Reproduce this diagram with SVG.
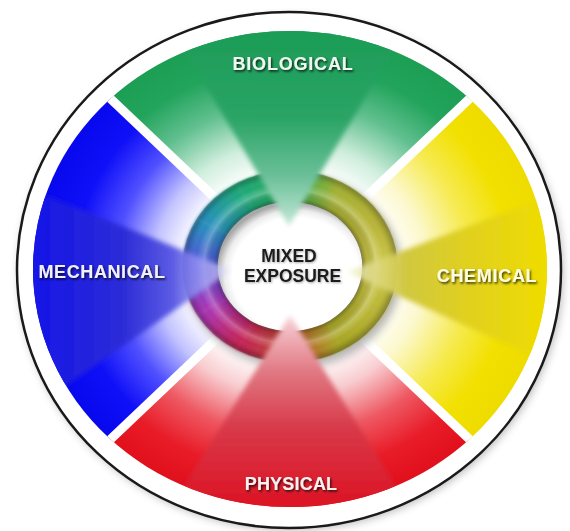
<svg xmlns="http://www.w3.org/2000/svg" width="570" height="531" viewBox="0 0 570 531">
<style>
.lbl{font-family:"Liberation Sans",Arial,sans-serif;font-weight:bold;font-size:18px;text-anchor:middle;filter:url(#tshadow)}
.ctr{font-family:"Liberation Sans",Arial,sans-serif;font-weight:bold;font-size:17.5px;text-anchor:middle;fill:#1a1a1a;filter:url(#cshadow)}
.sep{stroke:#ffffff;stroke-width:9;fill:none}
.cone{filter:url(#soft)}
</style>
<defs>
<clipPath id="disk"><ellipse cx="290" cy="269" rx="257" ry="238"/></clipPath>
<filter id="tshadow" x="-10%" y="-40%" width="125%" height="180%"><feDropShadow dx="1.2" dy="1.6" stdDeviation="0.8" flood-color="#000" flood-opacity="0.8"/></filter>
<filter id="cshadow" x="-10%" y="-40%" width="125%" height="180%"><feDropShadow dx="0.8" dy="1" stdDeviation="0.8" flood-color="#000" flood-opacity="0.35"/></filter>
<filter id="soft" x="-20%" y="-20%" width="140%" height="140%"><feGaussianBlur stdDeviation="2.5"/></filter>
<filter id="blur1" x="-10%" y="-10%" width="120%" height="120%"><feGaussianBlur stdDeviation="1.3"/></filter>
<filter id="blur4" x="-20%" y="-20%" width="140%" height="140%"><feGaussianBlur stdDeviation="4"/></filter>
<radialGradient id="gGreen" gradientUnits="userSpaceOnUse" cx="290" cy="269" r="257" gradientTransform="translate(290 269) scale(1 0.926) translate(-290 -269)">
<stop offset="0" stop-color="#fff"/><stop offset="0.4" stop-color="#fff"/><stop offset="0.53" stop-color="#d0eedd"/><stop offset="0.7" stop-color="#62c090"/><stop offset="0.86" stop-color="#22a45c"/><stop offset="1" stop-color="#1c9e55"/></radialGradient>
<radialGradient id="gBlue" gradientUnits="userSpaceOnUse" cx="290" cy="269" r="257" gradientTransform="translate(290 269) scale(1 0.926) translate(-290 -269)">
<stop offset="0" stop-color="#fff"/><stop offset="0.4" stop-color="#fff"/><stop offset="0.53" stop-color="#c4c4ff"/><stop offset="0.68" stop-color="#5050ff"/><stop offset="0.84" stop-color="#1010f8"/><stop offset="1" stop-color="#0808ee"/></radialGradient>
<radialGradient id="gYellow" gradientUnits="userSpaceOnUse" cx="290" cy="269" r="257" gradientTransform="translate(290 269) scale(1 0.926) translate(-290 -269)">
<stop offset="0" stop-color="#fff"/><stop offset="0.4" stop-color="#fff"/><stop offset="0.53" stop-color="#fcf8cc"/><stop offset="0.7" stop-color="#f6ea50"/><stop offset="0.86" stop-color="#f2e000"/><stop offset="1" stop-color="#eedc00"/></radialGradient>
<radialGradient id="gRed" gradientUnits="userSpaceOnUse" cx="290" cy="269" r="257" gradientTransform="translate(290 269) scale(1 0.926) translate(-290 -269)">
<stop offset="0" stop-color="#fff"/><stop offset="0.4" stop-color="#fff"/><stop offset="0.53" stop-color="#f8cdd0"/><stop offset="0.7" stop-color="#ee5862"/><stop offset="0.86" stop-color="#e81c28"/><stop offset="1" stop-color="#e0101c"/></radialGradient>
<linearGradient id="cGreen" gradientUnits="userSpaceOnUse" x1="289" y1="30" x2="289" y2="226">
<stop offset="0" stop-color="#1c9c56"/><stop offset="0.45" stop-color="#2aa465"/><stop offset="0.75" stop-color="#6cc099"/><stop offset="0.92" stop-color="#a8dcc4"/><stop offset="1" stop-color="#c8ead8"/></linearGradient>
<linearGradient id="cRed" gradientUnits="userSpaceOnUse" x1="290" y1="505" x2="290" y2="315">
<stop offset="0" stop-color="#dc1424"/><stop offset="0.4" stop-color="#d83848"/><stop offset="0.7" stop-color="#e07882"/><stop offset="0.9" stop-color="#f0b4bc"/><stop offset="1" stop-color="#f8dadd"/></linearGradient>
<linearGradient id="cBlue" gradientUnits="userSpaceOnUse" x1="35" y1="270" x2="232" y2="270">
<stop offset="0" stop-color="#1616e6"/><stop offset="0.45" stop-color="#2c2cd8"/><stop offset="0.7" stop-color="#5c5ce4"/><stop offset="0.88" stop-color="#a8a8f4" stop-opacity="0.8"/><stop offset="1" stop-color="#f0f0ff" stop-opacity="0.6"/></linearGradient>
<linearGradient id="cYellow" gradientUnits="userSpaceOnUse" x1="545" y1="272" x2="346" y2="272">
<stop offset="0" stop-color="#eedc00"/><stop offset="0.4" stop-color="#e0d020"/><stop offset="0.7" stop-color="#d0c840"/><stop offset="0.88" stop-color="#e0dc90" stop-opacity="0.85"/><stop offset="1" stop-color="#f8f8e0" stop-opacity="0.6"/></linearGradient>
<linearGradient id="r0" gradientUnits="userSpaceOnUse" x1="80" y1="0" x2="69.28" y2="40"><stop offset="0" stop-color="#ccc84a"/><stop offset="1" stop-color="#bab634"/></linearGradient>
<linearGradient id="r1" gradientUnits="userSpaceOnUse" x1="69.28" y1="40" x2="40" y2="69.28"><stop offset="0" stop-color="#bab634"/><stop offset="1" stop-color="#a8a624"/></linearGradient>
<linearGradient id="r2" gradientUnits="userSpaceOnUse" x1="40" y1="69.28" x2="0" y2="80"><stop offset="0" stop-color="#a8a624"/><stop offset="1" stop-color="#b84a2c"/></linearGradient>
<linearGradient id="r3" gradientUnits="userSpaceOnUse" x1="0" y1="80" x2="-40" y2="69.28"><stop offset="0" stop-color="#b84a2c"/><stop offset="1" stop-color="#c42454"/></linearGradient>
<linearGradient id="r4" gradientUnits="userSpaceOnUse" x1="-40" y1="69.28" x2="-69.28" y2="40"><stop offset="0" stop-color="#c42454"/><stop offset="1" stop-color="#aa34b4"/></linearGradient>
<linearGradient id="r5" gradientUnits="userSpaceOnUse" x1="-69.28" y1="40" x2="-80" y2="0"><stop offset="0" stop-color="#aa34b4"/><stop offset="1" stop-color="#5250da"/></linearGradient>
<linearGradient id="r6" gradientUnits="userSpaceOnUse" x1="-80" y1="0" x2="-69.28" y2="-40"><stop offset="0" stop-color="#5250da"/><stop offset="1" stop-color="#2690bc"/></linearGradient>
<linearGradient id="r7" gradientUnits="userSpaceOnUse" x1="-69.28" y1="-40" x2="-40" y2="-69.28"><stop offset="0" stop-color="#2690bc"/><stop offset="1" stop-color="#1ea878"/></linearGradient>
<linearGradient id="r8" gradientUnits="userSpaceOnUse" x1="-40" y1="-69.28" x2="0" y2="-80"><stop offset="0" stop-color="#1ea878"/><stop offset="1" stop-color="#26a852"/></linearGradient>
<linearGradient id="r9" gradientUnits="userSpaceOnUse" x1="0" y1="-80" x2="40" y2="-69.28"><stop offset="0" stop-color="#26a852"/><stop offset="1" stop-color="#a4b032"/></linearGradient>
<linearGradient id="r10" gradientUnits="userSpaceOnUse" x1="40" y1="-69.28" x2="69.28" y2="-40"><stop offset="0" stop-color="#a4b032"/><stop offset="1" stop-color="#b8b436"/></linearGradient>
<linearGradient id="r11" gradientUnits="userSpaceOnUse" x1="69.28" y1="-40" x2="80" y2="0"><stop offset="0" stop-color="#b8b436"/><stop offset="1" stop-color="#ccc84a"/></linearGradient>
<radialGradient id="tube" cx="0.5" cy="0.5" r="0.5">
<stop offset="0" stop-color="#000" stop-opacity="0"/><stop offset="0.66" stop-color="#000" stop-opacity="0.38"/><stop offset="0.72" stop-color="#000" stop-opacity="0.08"/><stop offset="0.8" stop-color="#fff" stop-opacity="0.25"/><stop offset="0.88" stop-color="#fff" stop-opacity="0"/><stop offset="0.95" stop-color="#000" stop-opacity="0.1"/><stop offset="1" stop-color="#000" stop-opacity="0.3"/></radialGradient>
<radialGradient id="hole" cx="0.54" cy="0.56" r="0.55">
<stop offset="0" stop-color="#fff"/><stop offset="0.8" stop-color="#fff"/><stop offset="0.9" stop-color="#ececec"/><stop offset="1" stop-color="#a8a8a8"/></radialGradient>
</defs>
<rect width="570" height="531" fill="#fff"/>
<g id="rim">
<ellipse cx="291" cy="273" rx="272" ry="257" fill="#666" opacity="0.45" filter="url(#blur4)"/>
<ellipse cx="289" cy="270" rx="272" ry="258" fill="#fff" stroke="#1a1a1a" stroke-width="2.5"/>
</g>
<g clip-path="url(#disk)">
<g id="node-biological">
<polygon points="290,269 -80,-83 660,-83" fill="url(#gGreen)"/>
</g>
<g id="node-mechanical">
<polygon points="290,269 -80,-83 -80,621" fill="url(#gBlue)"/>
</g>
<g id="node-chemical">
<polygon points="290,269 660,-83 660,621" fill="url(#gYellow)"/>
</g>
<g id="node-physical">
<polygon points="290,269 -80,621 660,621" fill="url(#gRed)"/>
</g>
<g id="separators">
<line class="sep" x1="290" y1="269" x2="-3" y2="-9"/>
<line class="sep" x1="290" y1="269" x2="583" y2="-9"/>
<line class="sep" x1="290" y1="269" x2="-3" y2="547"/>
<line class="sep" x1="290" y1="269" x2="583" y2="547"/>
</g>
</g>
<g id="node-mixed">
<g transform="translate(290 266.5) scale(1.12 1)">
<circle cx="3" cy="5" r="97" fill="#000" opacity="0.28" filter="url(#blur4)"/>
<g filter="url(#blur1)" fill="none" stroke-width="32">
<path d="M80 0A80 80 0 0 1 69.28 40" stroke="url(#r0)"/>
<path d="M69.28 40A80 80 0 0 1 40 69.28" stroke="url(#r1)"/>
<path d="M40 69.28A80 80 0 0 1 0 80" stroke="url(#r2)"/>
<path d="M0 80A80 80 0 0 1 -40 69.28" stroke="url(#r3)"/>
<path d="M-40 69.28A80 80 0 0 1 -69.28 40" stroke="url(#r4)"/>
<path d="M-69.28 40A80 80 0 0 1 -80 0" stroke="url(#r5)"/>
<path d="M-80 0A80 80 0 0 1 -69.28 -40" stroke="url(#r6)"/>
<path d="M-69.28 -40A80 80 0 0 1 -40 -69.28" stroke="url(#r7)"/>
<path d="M-40 -69.28A80 80 0 0 1 0 -80" stroke="url(#r8)"/>
<path d="M0 -80A80 80 0 0 1 40 -69.28" stroke="url(#r9)"/>
<path d="M40 -69.28A80 80 0 0 1 69.28 -40" stroke="url(#r10)"/>
<path d="M69.28 -40A80 80 0 0 1 80 0" stroke="url(#r11)"/>
</g>
<path d="M96 0A96 96 0 1 1 -96 0A96 96 0 1 1 96 0ZM64 0A64 64 0 1 0 -64 0A64 64 0 1 0 64 0Z" fill-rule="evenodd" fill="url(#tube)"/>
<circle r="64.5" fill="url(#hole)"/>
</g>
</g>
<g id="cones" clip-path="url(#disk)">
<polygon class="cone" points="289,226 119,-60 459,-60" fill="url(#cGreen)"/>
<polygon class="cone" points="232,270 -50,157 -50,467" fill="url(#cBlue)"/>
<polygon class="cone" points="346,272 640,162 640,404" fill="url(#cYellow)"/>
<polygon class="cone" points="290,315 120,590 460,590" fill="url(#cRed)"/>
</g>
<g id="labels">
<text class="lbl" x="293" y="70" fill="#eef8f0" letter-spacing="0.8">BIOLOGICAL</text>
<text class="lbl" x="102" y="278" fill="#f0f0ff" letter-spacing="0.6">MECHANICAL</text>
<text class="lbl" x="487" y="282" fill="#fffde0" letter-spacing="0.7">CHEMICAL</text>
<text class="lbl" x="291" y="490" fill="#fff0f0" letter-spacing="0.2">PHYSICAL</text>
<text class="ctr" x="289" y="262">MIXED</text>
<text class="ctr" x="292.5" y="282">EXPOSURE</text>
</g>
</svg>
